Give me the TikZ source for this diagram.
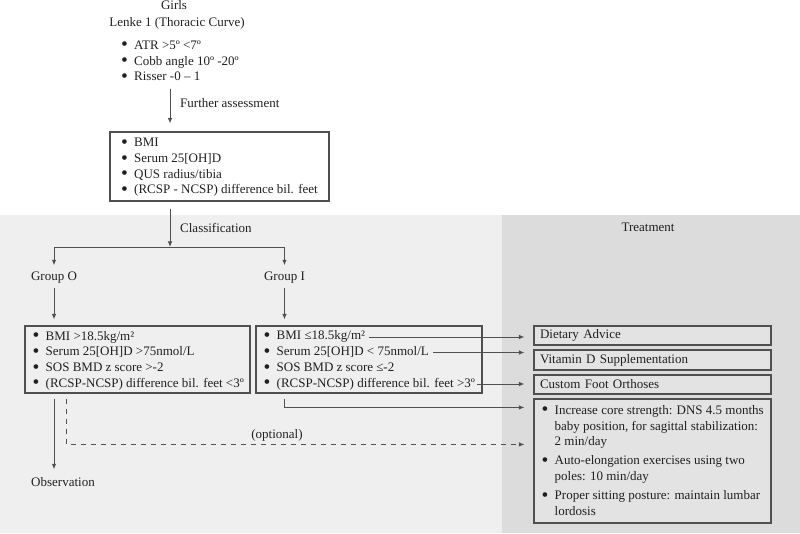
\documentclass[tikz,border=0pt]{standalone}
\usepackage{fontspec}
\setmainfont{Liberation Serif}
\usepackage{graphicx}
\usetikzlibrary{arrows.meta}

\definecolor{leftpanel}{HTML}{EFEFEF}
\definecolor{rightpanel}{HTML}{DCDCDC}
\definecolor{boxfill}{HTML}{E3E3E3}
\definecolor{linegray}{HTML}{505050}
\definecolor{textgray}{HTML}{202020}

\newcommand{\bul}{\makebox[13pt][l]{\raisebox{-1.6pt}{\scalebox{1.5}{\textbullet}}}}
\newcommand{\ind}{\hspace*{13pt}}

\tikzset{
    txt/.style={font=\fontsize{13}{15.7}\selectfont, text=textgray, inner sep=0pt, align=left},
    lbl/.style={txt, text height=8.5pt, text depth=2.5pt},
    frame/.style={draw=linegray, line width=1.1pt, inner sep=0pt},
    tbox/.style={frame, fill=boxfill, txt, text width=225pt, inner xsep=6pt, minimum height=19pt},
    line/.style={draw=linegray, line width=0.9pt},
    arr/.style={line, -{Latex[length=5.5pt,width=4.5pt]}},
}

\begin{document}
\begin{tikzpicture}[x=1pt, y=-1pt]
    \useasboundingbox (0,0) rectangle (800,534);

    % panels
    \begin{scope}
        \fill[leftpanel] (0,215) rectangle (502,533);
        \fill[rightpanel] (502,215) rectangle (800,533);
    \end{scope}

    % inclusion
    \node[lbl] (girls) at (174,7) {Girls};
    \node[lbl] (lenke) at (177,23.5) {Lenke 1 (Thoracic Curve)};
    \node[txt, anchor=west] (crit) at (121,61.5) {\bul ATR >5º <7º\\ \bul Cobb angle 10º -20º\\ \bul Risser -0 – 1};
    \coordinate (trunk) at (170,0);

    % further assessment
    \node[frame, minimum width=219pt, minimum height=69pt] (assess) at (219.5,166.5) {};
    \node[txt, anchor=west] (assesstxt) at (121,167.5) {\bul BMI\\ \bul Serum 25[OH]D\\ \bul QUS radius/tibia\\ \bul (RCSP - NCSP) difference bil. feet};
    \draw[arr, shorten <=6pt, shorten >=8pt] (trunk |- crit.south) -- (trunk |- assess.north);
    \node[lbl, anchor=west] (further) at (180,105) {Further assessment};

    % classification
    \coordinate (split) at (170,247);
    \node[lbl] (gO) at (54,278) {Group O};
    \node[lbl] (gI) at (284.5,278) {Group I};
    \draw[arr, shorten <=7pt] (trunk |- assess.south) -- (split);
    \node[lbl, anchor=west] (classif) at (180,230) {Classification};
    \draw[line] (gO |- split) -- (gI |- split);
    \draw[arr, shorten >=7pt] (gO |- split) -- (gO.north);
    \draw[arr, shorten >=7pt] (gI |- split) -- (gI.north);

    % group O
    \node[frame, minimum width=225pt, minimum height=67pt] (grpO) at (137.5,359.5) {};
    \node[txt, anchor=west] (grpOtxt) at (32.5,360.5) {\bul BMI >18.5kg/m²\\ \bul Serum 25[OH]D >75nmol/L\\ \bul SOS BMD z score >-2\\ \bul (RCSP-NCSP) difference bil. feet <3º};
    \draw[arr, shorten <=4pt, shorten >=6pt] (gO.south) -- (gO |- grpO.north);

    % group I
    \node[frame, minimum width=226pt, minimum height=67pt] (grpI) at (369,359.5) {};
    \node[lbl, anchor=west] (i1) at (263.5,337) {\bul BMI ≤18.5kg/m²};
    \node[lbl, anchor=west] (i2) at (263.5,352.5) {\bul Serum 25[OH]D < 75nmol/L};
    \node[lbl, anchor=west] (i3) at (263.5,368.5) {\bul SOS BMD z score ≤-2};
    \node[lbl, anchor=west] (i4) at (263.5,384) {\bul (RCSP-NCSP) difference bil. feet >3º};
    \draw[arr, shorten <=4pt, shorten >=6pt] (gI.south) -- (gI |- grpI.north);

    % observation
    \node[lbl] (obs) at (63,483) {Observation};
    \draw[arr, shorten <=5pt, shorten >=8pt] (gO |- grpO.south) -- (gO |- obs.north);

    % treatment
    \node[lbl] (treat) at (648,229) {Treatment};
    \node[tbox] (diet) at (652.5,335.5) {Dietary Advice};
    \node[tbox, minimum height=20pt] (vitd) at (652.5,360) {Vitamin D Supplementation};
    \node[tbox] (foot) at (652.5,384.5) {Custom Foot Orthoses};
    \node[frame, fill=boxfill, minimum width=237pt, minimum height=124pt] (core) at (652.5,461) {};
    \node[txt, anchor=west] (coretxt) at (541.5,460.5) {\bul Increase core strength: DNS 4.5 months\\
        \ind baby position, for sagittal stabilization:\\
        \ind 2 min/day\\[3.5pt]
        \bul Auto-elongation exercises using two\\
        \ind poles: 10 min/day\\[3.5pt]
        \bul Proper sitting posture: maintain lumbar\\
        \ind lordosis};

    % links
    \draw[arr, shorten <=4pt, shorten >=9pt] (i1.east) -- (i1.east -| diet.west);
    \draw[arr, shorten <=4pt, shorten >=9pt] (i2.east) -- (i2.east -| vitd.west);
    \draw[arr, shorten <=2pt, shorten >=9pt] (i4.east) -- (i4.east -| foot.west);
    \draw[arr, shorten >=9pt] ([yshift=-5pt]gI |- grpI.south) |- ([yshift=-9pt]core.north west);
    \draw[arr, dash pattern=on 5pt off 5pt] ([xshift=42pt,yshift=-5pt]grpO.south west) |- ([xshift=-9pt,yshift=-46pt]core.north west);
    \node[lbl] (opt) at (277,435) {(optional)};
\end{tikzpicture}
\end{document}
